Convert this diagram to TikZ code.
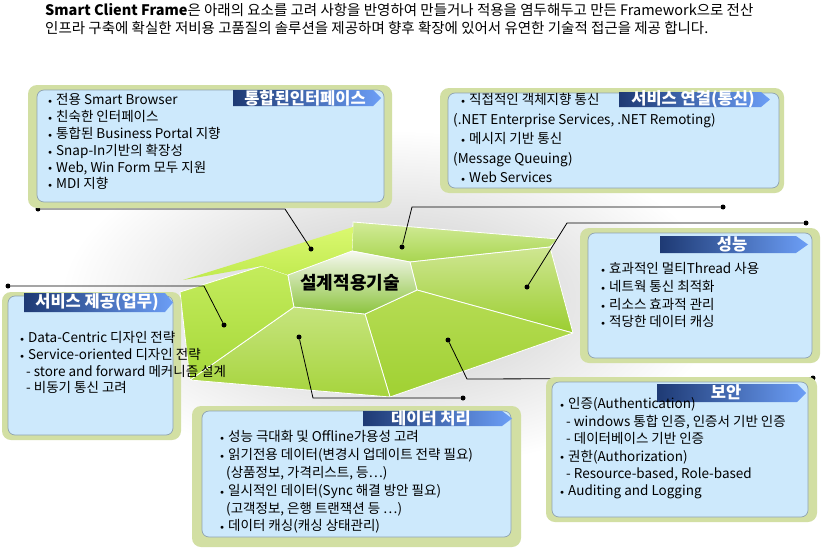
\documentclass[tikz,border=0pt]{standalone}
\usepackage{fontspec}
\setmainfont{Noto Sans CJK KR}
\usepackage{tikz}

\definecolor{boxrim}{HTML}{D2DFA3}
\definecolor{boxfill}{HTML}{CDE9FC}
\definecolor{boxedge}{HTML}{8FA3B0}
\definecolor{tagdark}{HTML}{1E3A74}
\definecolor{taglight}{HTML}{6C9EF6}
\definecolor{topA}{HTML}{D2EB98}
\definecolor{topB}{HTML}{A8D550}
\definecolor{rightA}{HTML}{CFE692}
\definecolor{rightB}{HTML}{9BCE30}
\definecolor{lowrA}{HTML}{B6DC55}
\definecolor{lowrB}{HTML}{A0D132}
\definecolor{lowlA}{HTML}{C6E47E}
\definecolor{lowlB}{HTML}{A6D43C}
\definecolor{leftA}{HTML}{C4EC5C}
\definecolor{leftB}{HTML}{A6D83A}
\definecolor{spikeA}{HTML}{DAF870}
\definecolor{spikeB}{HTML}{C0EA4E}
\definecolor{hubA}{HTML}{F6F8F0}
\definecolor{hubB}{HTML}{8CC43E}

\newcommand{\blt}{\makebox[8pt][l]{\raisebox{0.15ex}{\scriptsize$\bullet$}}}

\tikzset{
	rim/.style={fill=boxrim, rounded corners=9pt},
	pane/.style={fill=boxfill, draw=boxedge, line width=0.7pt, rounded corners=7pt},
	tagbar/.style={left color=tagdark, right color=taglight},
	tagtext/.style={text=white, inner sep=0pt, font=\bfseries\fontsize{16.5}{17}\selectfont},
	list/.style={anchor=north west, align=left, inner sep=0pt, execute at begin node=\rule{0pt}{13pt}},
	face/.style={draw=white, line width=0.8pt, line join=round},
	dot/.style={circle, fill=black, inner sep=0pt, minimum size=5pt},
	conn/.style={line width=0.8pt}
}

\begin{document}
\begin{tikzpicture}[x=1pt, y=-1pt]
	
	\useasboundingbox (0,0) rectangle (822,549);
	\fill[white] (0,0) rectangle (822,549);
	\shade[inner color=black!22, outer color=white] (390,300) ellipse [x radius=330, y radius=170];
	
	\node[list, font=\fontsize{14.5}{18}\selectfont] (head) at (45,3) {\textbf{Smart Client Frame}은 아래의 요소를 고려 사항을 반영하여 만들거나 적용을 염두해두고 만든 Framework으로 전산\\인프라 구축에 확실한 저비용 고품질의 솔루션을 제공하며 향후 확장에 있어서 유연한 기술적 접근을 제공 합니다.};
	
	\shadedraw[face, top color=topA, bottom color=topB] (353,222) -- (558,239) -- (550,247) -- (410,262) -- (352,251) -- cycle;
	\shadedraw[face, top color=rightA, bottom color=rightB] (410,262) -- (550,247) -- (573,333) -- (417,290) -- cycle;
	\shadedraw[face, top color=lowrA, bottom color=lowrB] (417,290) -- (573,333) -- (390,397) -- (365,314) -- cycle;
	\shadedraw[face, top color=lowlA, bottom color=lowlB] (365,314) -- (390,397) -- (190,380) -- (294,307) -- cycle;
	\shadedraw[face, top color=leftA, bottom color=leftB] (288,275) -- (294,307) -- (190,380) -- (180,292) -- (262,266) -- cycle;
	\shade[top color=spikeA, bottom color=spikeB] (183,280) -- (353,227) -- (352,251) -- (288,275) -- (262,266) -- cycle;
	\shadedraw[face, top color=hubA, bottom color=hubB] (352,251) -- (410,262) -- (417,290) -- (365,314) -- (294,307) -- (288,275) -- cycle;
	\node[font=\bfseries\fontsize{18}{18}\selectfont] (core) at (350,283) {설계적용기술};
	
	\node[dot] (d1) at (311,249) {};
	\node[dot] (d2) at (402,247) {};
	\node[dot] (d3) at (527,287) {};
	\node[dot] (d4) at (224,325) {};
	\node[dot] (d5) at (299,337) {};
	\node[dot] (d6) at (448,340) {};
	\node[dot] (e1) at (38,209) {};
	\node[dot] (e2) at (723,207) {};
	\node[dot] (e3) at (806,223) {};
	\node[dot] (e4) at (8,286) {};
	\node[dot] (e5) at (463,398) {};
	\node[dot] (e6) at (813,378) {};
	\coordinate (k1) at (285,209);
	\coordinate (k2) at (412,207);
	\coordinate (k3) at (567,223);
	\coordinate (k4) at (204,286);
	\coordinate (k5) at (313,398);
	\coordinate (k6) at (467,379);
	
	\draw[conn] (d1) -- (k1) -- (e1);
	\draw[conn] (d2) -- (k2) -- (e2);
	\draw[conn] (d3) -- (k3) -- (e3);
	\draw[conn] (d4) -- (k4) -- (e4);
	\draw[conn] (d5) -- (k5) -- (e5);
	\draw[conn] (d6) -- (k6) -- (e6);
	
	\fill[rim] (28,85) rectangle (392,208);
	\draw[pane] (37,90) rectangle (384,202);
	\shade[tagbar] (233,90) -- (373,90) -- (381,98) -- (373,106) -- (233,106) -- cycle;
	\node[tagtext] (t1) at (305,98) {통합된인터페이스};
	\node[list, font=\fontsize{13.5}{16.8}\selectfont] (l1) at (48,93.5) {\blt 전용 Smart Browser\\ \blt 친숙한 인터페이스\\ \blt 통합된 Business Portal 지향\\ \blt Snap-In기반의 확장성\\ \blt Web, Win Form 모두 지원\\ \blt MDI 지향};
	
	\fill[rim] (440,88) rectangle (784,193);
	\draw[pane] (448,93) rectangle (779,188);
	\shade[tagbar] (619,92) -- (761,92) -- (770,99.5) -- (761,107) -- (619,107) -- cycle;
	\node[tagtext] (t2) at (693,99) {서비스 연결(통신)};
	\node[list, font=\fontsize{13.5}{19.5}\selectfont] (l2) at (453,93.5) {\hspace*{8pt}\blt 직접적인 객체지향 통신\\ (.NET Enterprise Services, .NET Remoting)\\ \hspace*{8pt}\blt 메시지 기반 통신\\ (Message Queuing)\\ \hspace*{8pt}\blt Web Services};
	
	\fill[rim] (580,228) rectangle (820,363);
	\draw[pane] (588,233) rectangle (812,358);
	\shade[tagbar] (660,236) -- (796,236) -- (808,244.5) -- (796,253) -- (660,253) -- cycle;
	\node[tagtext] (t3) at (732,244) {성능};
	\node[list, font=\fontsize{13.5}{17.7}\selectfont] (l3) at (601,262.5) {\blt 효과적인 멀티Thread 사용\\ \blt 네트웍 통신 최적화\\ \blt 리소스 효과적 관리\\ \blt 적당한 데이터 캐싱};
	
	\fill[rim] (2,292) rectangle (181,440);
	\draw[pane] (8,296) rectangle (173,435);
	\shade[tagbar] (24,293) -- (165,293) -- (173,302.5) -- (165,312) -- (24,312) -- cycle;
	\node[tagtext] (t4) at (97,302) {서비스 제공(업무)};
	\node[list, font=\fontsize{13.5}{16.7}\selectfont] (l4) at (20,331.5) {\blt Data-Centric 디자인 전략\\ \blt Service-oriented 디자인 전략\\ \hspace*{6pt}- store and forward 메커니즘 설계\\ \hspace*{6pt}- 비동기 통신 고려};
	
	\fill[rim] (192,406) rectangle (521,547);
	\draw[pane] (202,411) rectangle (511,537);
	\shade[tagbar] (363,411) -- (502,411) -- (512,418.5) -- (502,426) -- (363,426) -- cycle;
	\node[tagtext] (t5) at (431,418) {데이터 처리};
	\node[list, font=\fontsize{13.5}{17.8}\selectfont] (l5) at (220,430.5) {\blt 성능 극대화 및 Offline가용성 고려\\ \blt 읽기전용 데이터(변경시 업데이트 전략 필요)\\ \hspace*{6pt}(상품정보, 가격리스트, 등…)\\ \blt 일시적인 데이터(Sync 해결 방안 필요)\\ \hspace*{6pt}(고객정보, 은행 트랜잭션 등 …)\\ \blt 데이터 캐싱(캐싱 상태관리)};
	
	\fill[rim] (546,377) rectangle (817,522);
	\draw[pane] (552,382) rectangle (808,517);
	\shade[tagbar] (657,384) -- (797,384) -- (806,393) -- (797,402) -- (657,402) -- cycle;
	\node[tagtext] (t6) at (726,392) {보안};
	\node[list, font=\fontsize{13.5}{17.4}\selectfont] (l6) at (560,397.5) {\blt 인증(Authentication)\\ \hspace*{6pt}- windows 통합 인증, 인증서 기반 인증\\ \hspace*{6pt}- 데이터베이스 기반 인증\\ \blt 권한(Authorization)\\ \hspace*{6pt}- Resource-based, Role-based\\ \blt Auditing and Logging};
	
\end{tikzpicture}
\end{document}
